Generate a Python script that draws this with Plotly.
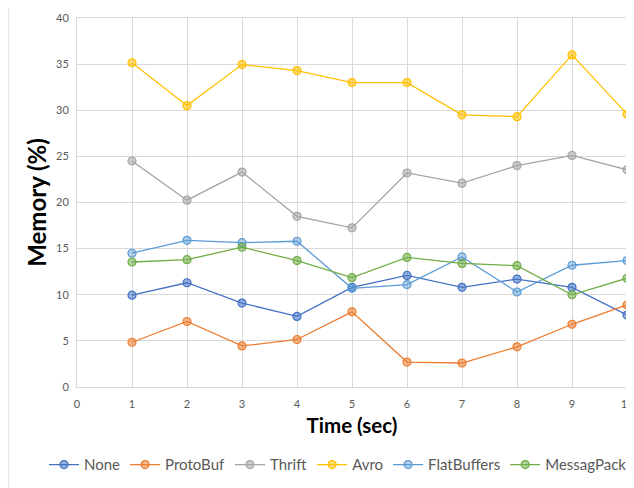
import plotly.graph_objects as go

time_sec = [1, 2, 3, 4, 5, 6, 7, 8, 9, 10]
none_vals = [9.95, 11.3, 9.1, 7.65, 10.8, 12.1, 10.8, 11.7, 10.8, 7.8]
protobuf_vals = [4.85, 7.1, 4.45, 5.15, 8.15, 2.7, 2.6, 4.35, 6.8, 8.9]
thrift_vals = [24.5, 20.25, 23.3, 18.5, 17.25, 23.2, 22.1, 24.0, 25.1, 23.55]
avro_vals = [35.15, 30.5, 34.95, 34.3, 33.0, 33.0, 29.5, 29.3, 36.0, 29.6]
flatbuffers_vals = [14.5, 15.9, 15.65, 15.8, 10.7, 11.1, 14.1, 10.3, 13.2, 13.7]
messagpack_vals = [13.55, 13.8, 15.15, 13.7, 11.85, 14.05, 13.4, 13.15, 10.0, 11.8]

series = [
    ("None", none_vals, "#4472C4", "rgba(68,114,196,0.55)"),
    ("ProtoBuf", protobuf_vals, "#ED7D31", "rgba(237,125,49,0.55)"),
    ("Thrift", thrift_vals, "#A5A5A5", "rgba(165,165,165,0.55)"),
    ("Avro", avro_vals, "#FFC000", "rgba(255,192,0,0.55)"),
    ("FlatBuffers", flatbuffers_vals, "#5B9BD5", "rgba(91,155,213,0.45)"),
    ("MessagPack", messagpack_vals, "#70AD47", "rgba(112,173,71,0.55)"),
]

fig = go.Figure()
for name, vals, col, fill in series:
    fig.add_trace(go.Scatter(
        x=time_sec, y=vals, name=name, mode="lines+markers",
        line=dict(color=col, width=1.3),
        marker=dict(symbol="circle", size=8, color=fill, line=dict(color=col, width=1.2)),
    ))

# page body has an 8px default margin, so the figure is sized/offset to compensate
fig.update_layout(
    width=626, height=480,
    margin=dict(l=69, r=7, t=10, b=101, autoexpand=False),
    paper_bgcolor="white", plot_bgcolor="white",
    font=dict(family="Lato, Open Sans, sans-serif", color="#595959"),
    showlegend=True,
    legend=dict(orientation="h", x=-0.06, xanchor="left",
                y=-0.211, yanchor="middle",
                font=dict(size=15, color="#595959"), itemwidth=30, tracegroupgap=0),
    xaxis=dict(range=[0, 10], tickmode="linear", dtick=1, showgrid=True,
               gridcolor="#D9D9D9", gridwidth=1, zeroline=False, automargin=False,
               showline=True, linecolor="#D9D9D9", mirror=True,
               ticks="", ticklabelstandoff=7,
               tickfont=dict(size=11, color="#595959"),
               title=dict(text="<b>Time (sec)</b>", font=dict(size=20.5, color="#000000"), standoff=9)),
    yaxis=dict(range=[0, 40], tickmode="linear", dtick=5, showgrid=True,
               gridcolor="#D9D9D9", gridwidth=1, zeroline=False, automargin=False,
               showline=True, linecolor="#D9D9D9", mirror=True,
               ticks="", ticklabelstandoff=5,
               tickfont=dict(size=11, color="#595959"),
               title=dict(text="<b>Memory (%)</b>", font=dict(size=24, color="#000000"), standoff=2)),
)

fig.add_shape(type="rect", xref="paper", yref="paper",
              x0=-0.125, x1=1.02, y0=-0.28, y1=1.03,
              line=dict(color="#E0E0E0", width=1), layer="below")

fig.write_html("out.html")
